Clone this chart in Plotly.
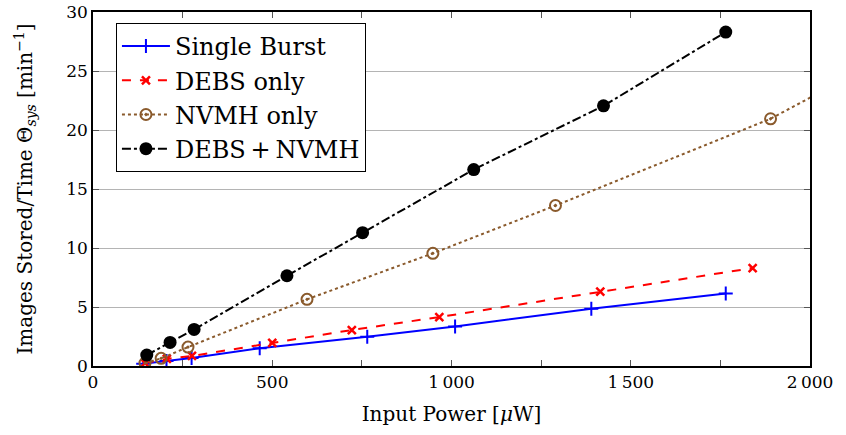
import plotly.graph_objects as go

# ---- data ----
single_x = [140, 205, 275, 465, 765, 1010, 1390, 1765]
single_y = [0.2, 0.42, 0.68, 1.5, 2.47, 3.35, 4.85, 6.15]

debs_x = [145, 206, 276, 500, 722, 966, 1415, 1840]
debs_y = [0.25, 0.6, 0.85, 1.95, 3.05, 4.15, 6.3, 8.3]

nvmh_x = [145, 190, 265, 597, 948, 1290, 1890, 2250]
nvmh_y = [0.25, 0.65, 1.6, 5.65, 9.55, 13.6, 20.95, 26.8]

both_x = [150, 215, 282, 541, 752, 1062, 1424, 1765]
both_y = [0.93, 2.0, 3.1, 7.65, 11.3, 16.65, 22.05, 28.3]

x_tickvals = [0, 500, 1000, 1500, 2000]
x_ticktext = ["0", "500", "1\u2009000", "1\u2009500", "2\u2009000"]
y_tickvals = [0, 5, 10, 15, 20, 25, 30]
y_ticktext = ["0", "5", "10", "15", "20", "25", "30"]

FONT = "DejaVu Serif, Liberation Serif, serif"

fig = go.Figure()
fig.add_trace(go.Scatter(
    x=single_x, y=single_y, name="Single Burst", mode="lines+markers",
    line=dict(color="#0000ff", width=2, dash="solid"),
    marker=dict(symbol="cross-thin-open", size=10, line=dict(color="#0000ff", width=2)),
))
fig.add_trace(go.Scatter(
    x=debs_x, y=debs_y, name="DEBS only", mode="lines+markers",
    line=dict(color="#ff0000", width=2, dash="dash"),
    marker=dict(symbol="x-thin-open", size=8, line=dict(color="#ff0000", width=2.5)),
))
fig.add_trace(go.Scatter(
    x=nvmh_x, y=nvmh_y, name="NVMH only", mode="lines+markers",
    line=dict(color="#8a5a2c", width=2, dash="dot"),
    marker=dict(symbol="circle-open-dot", size=11, color="#8a5a2c", line=dict(color="#8a5a2c", width=2)),
))
fig.add_trace(go.Scatter(
    x=both_x, y=both_y, name="DEBS\u2009+\u2009NVMH", mode="lines+markers",
    line=dict(color="#000000", width=2, dash="dashdot"),
    marker=dict(symbol="circle", size=13, color="#000000"),
))

fig.update_layout(
    width=846, height=435,
    margin=dict(l=93, r=36, t=12, b=69, autoexpand=False),
    paper_bgcolor="white", plot_bgcolor="white",
    font=dict(family=FONT, size=17, color="black"),
    showlegend=True,
    legend=dict(
        x=0.032, y=0.969, xanchor="left", yanchor="top",
        bgcolor="white", bordercolor="black", borderwidth=1,
        font=dict(family=FONT, size=24, color="black"),
        tracegroupgap=0, itemwidth=48,
    ),
    xaxis=dict(
        range=[0, 2000], showgrid=False, zeroline=False, automargin=False,
        tickmode="array", tickvals=x_tickvals, ticktext=x_ticktext,
        ticks="inside", ticklen=6, tickcolor="#555555", tickwidth=1,
        ticklabeloverflow="allow",
        minor=dict(tickmode="linear", tick0=0, dtick=250, ticks="inside", ticklen=6,
                   tickcolor="#555555", showgrid=False),
        showline=True, linecolor="black", linewidth=1.5, mirror="ticks",
        tickfont=dict(family=FONT, size=17),
        title=dict(text="Input Power [<i>μ</i>W]", font=dict(family=FONT, size=20), standoff=16),
    ),
    yaxis=dict(
        range=[0, 30], showgrid=True, gridcolor="#b4b4b4", gridwidth=1, zeroline=False, automargin=False,
        tickmode="array", tickvals=y_tickvals, ticktext=y_ticktext,
        ticks="inside", ticklen=6, tickcolor="#555555", tickwidth=1,
        ticklabeloverflow="allow",
        showline=True, linecolor="black", linewidth=1.5, mirror="ticks",
        tickfont=dict(family=FONT, size=17),
        title=dict(text="Images Stored/Time Θ<sub><i>sys</i></sub> [min<sup>−1</sup>]",
                   font=dict(family=FONT, size=20), standoff=28),
    ),
)

fig.write_html(
    "out.html",
    config={"displayModeBar": False},
    post_script="document.body.style.margin='0';document.body.style.overflow='hidden';",
)
